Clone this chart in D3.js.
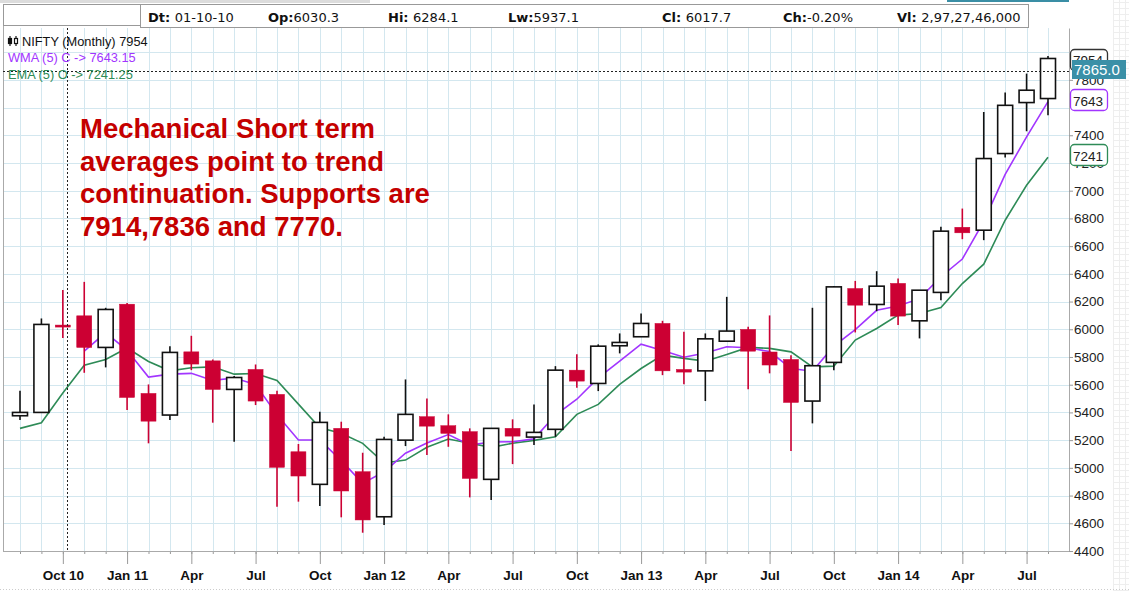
<!DOCTYPE html>
<html>
<head>
<meta charset="utf-8">
<script src="https://cdn.jsdelivr.net/npm/d3@7"></script>
<style>
  body { margin: 0; background: #fff; }
  svg { display: block; font-family: "Liberation Sans", Arial, sans-serif; }
</style>
</head>
<body>
<script>
var months = ["Aug 10","Sep 10","Oct 10","Nov 10","Dec 10","Jan 11","Feb 11","Mar 11","Apr 11","May 11","Jun 11","Jul 11",
  "Aug 11","Sep 11","Oct 11","Nov 11","Dec 11","Jan 12","Feb 12","Mar 12","Apr 12","May 12","Jun 12","Jul 12",
  "Aug 12","Sep 12","Oct 12","Nov 12","Dec 12","Jan 13","Feb 13","Mar 13","Apr 13","May 13","Jun 13","Jul 13",
  "Aug 13","Sep 13","Oct 13","Nov 13","Dec 13","Jan 14","Feb 14","Mar 14","Apr 14","May 14","Jun 14","Jul 14","Aug 14"];

var opens = [5376,5400,6030.3,6097,5869,6181,5537,5381,5837,5772,5566,5710,
  5530,5116,4881,5285,4972,4647,5200,5369,5304,5261,4917,5285,
  5222,5278,5705,5609,5881,5946,6042,5710,5700,5914,5999,5836,
  5782,5482,5761,6294,6179,6331,6061,6266,6736,6715,7268,7636,7665];
var highs = [5556,6078,6284.1,6342,6155,6190,5602,5878,5953,5782,5662,5746,
  5556,5172,5405,5333,5109,5224,5638,5501,5386,5285,5285,5350,
  5458,5734,5819,5891,5970,6114,6061,5982,5970,6234,6018,6100,
  5813,6155,6313,6349,6419,6367,6282,6739,6871,7568,7708,7845,7972];
var lows = [5345,5400,5937.1,5686,5725,5417,5177,5345,5705,5326,5188,5453,
  4720,4756,4725,4643,4532,4588,5157,5092,5152,4787,4768,5027,
  5165,5224,5578,5554,5826,5946,5669,5604,5482,5914,5568,5682,
  5121,5321,5705,5977,6131,6030,5934,6210,6650,6643,7239,7429,7544];
var closes = [5400,6035,6017.7,5869,6143,5508,5337,5833,5749,5566,5652,5482,
  5004,4941,5328,4833,4624,5205,5386,5301,5249,4924,5285,5229,
  5256,5705,5626,5878,5905,6042,5700,5691,5931,5987,5842,5742,
  5472,5737,6306,6174,6311,6095,6282,6708,6696,7232,7616,7725,7954];

var wma5 = [null,null,null,5843,5976,5848,5655,5676,5682,5631,5648,5601,
  5383,5201,5201,5052,4888,4972,5106,5180,5240,5165,5187,5188,
  5209,5381,5495,5649,5771,5892,5847,5798,5829,5874,5867,5839,
  5717,5697,5878,5998,6137,6168,6221,6379,6507,6779,7117,7389,7643.15];
var ema5 = [5285,5325,5540,5741,5782,5865,5768,5700,5722,5729,5676,5681,
  5630,5460,5290,5249,5177,5035,5056,5148,5208,5177,5148,5177,
  5198,5224,5386,5458,5602,5717,5813,5790,5770,5818,5869,5862,
  5837,5729,5734,5922,6006,6102,6114,6157,6330,6470,6787,7039,7241.25];

var tickMonths = ["Oct 10","Jan 11","Apr 11","Jul 11","Oct 11","Jan 12","Apr 12","Jul 12",
  "Oct 12","Jan 13","Apr 13","Jul 13","Oct 13","Jan 14","Apr 14","Jul 14"];
var tickLabels = ["Oct 10","Jan 11","Apr","Jul","Oct","Jan 12","Apr","Jul",
  "Oct","Jan 13","Apr","Jul","Oct","Jan 14","Apr","Jul"];
var yTicks = [4400,4600,4800,5000,5200,5400,5600,5800,6000,6200,6400,6600,6800,7000,7200,7400,7800];
var yGrid = [4400,4600,4800,5000,5200,5400,5600,5800,6000,6200,6400,6600,6800,7000,7200,7400,7600,7800,8000];
var crossPrice = 7865.0;

var headerItems = [["Dt: ","01-10-10",148],["Op:","6030.3",268],["Hi: ","6284.1",388],["Lw:","5937.1",508],
  ["Cl: ","6017.7",662],["Ch:","-0.20%",783],["Vl: ","2,97,27,46,000",897]];
var noteLines = ["Mechanical Short term","averages point to trend","continuation. Supports are","7914,7836 and 7770."];

(function(){
  var W = 1129, H = 591;
  var plot = {left: 3, right: 1069, top: 28, bottom: 551};
  var red = "#cc0033", purple = "#a235ff", green = "#2e8b57", gridColor = "#d3e7ef";

  var svg = d3.select("body").append("svg")
      .attr("width", W)
      .attr("height", H);

  var x = d3.scalePoint().domain(months).range([20, 1048]);
  var y = d3.scaleLinear().domain([4400, 8174]).range([plot.bottom, plot.top]);

  var candles = months.map(function(m, i) {
    return {m: m, o: opens[i], h: highs[i], l: lows[i], c: closes[i]};
  });

  // chrome around the plot
  svg.append("rect").attr("x", 0).attr("y", 0).attr("width", 370).attr("height", 3).attr("fill", "#dcdcdc");
  svg.append("rect").attr("x", 947).attr("y", 0).attr("width", 122).attr("height", 2).attr("fill", "#3a8ea5");
  var faint = svg.append("g").attr("stroke", "#eeeeee").attr("shape-rendering", "crispEdges");
  d3.range(1113, W, 6).forEach(function(v) {
    faint.append("line").attr("x1", v).attr("x2", v).attr("y1", 0).attr("y2", H);
  });
  d3.range(2, H, 6).forEach(function(v) {
    faint.append("line").attr("x1", 1113).attr("x2", W).attr("y1", v).attr("y2", v);
  });

  // grid
  var grid = svg.append("g").attr("stroke", gridColor).attr("shape-rendering", "crispEdges");
  grid.selectAll("line.v").data(months).enter().append("line")
      .attr("class", "v")
      .attr("x1", function(d) { return Math.round(x(d)) + 0.5; })
      .attr("x2", function(d) { return Math.round(x(d)) + 0.5; })
      .attr("y1", plot.top).attr("y2", plot.bottom);
  grid.selectAll("line.h").data(yGrid).enter().append("line")
      .attr("class", "h")
      .attr("x1", plot.left).attr("x2", plot.right)
      .attr("y1", function(d) { return Math.round(y(d)) + 0.5; })
      .attr("y2", function(d) { return Math.round(y(d)) + 0.5; });

  svg.append("line").attr("x1", plot.left + 0.5).attr("x2", plot.left + 0.5)
      .attr("y1", 4).attr("y2", plot.bottom).attr("stroke", "#aaa");

  // header boxes
  svg.append("rect").attr("x", 3.5).attr("y", 4.5).attr("width", 137).attr("height", 21)
      .attr("fill", "#fff").attr("stroke", "#999");
  svg.append("rect").attr("x", 140.5).attr("y", 4.5).attr("width", 888).attr("height", 23)
      .attr("fill", "#fff").attr("stroke", "#999");
  var hdr = svg.append("g").attr("font-family", "'DejaVu Sans', Verdana, sans-serif").attr("font-size", 13).attr("fill", "#111");
  headerItems.forEach(function(it) {
    var t = hdr.append("text").attr("x", it[2]).attr("y", 22);
    t.append("tspan").attr("font-weight", "bold").text(it[0]);
    t.append("tspan").text(it[1]);
  });

  // averages (drawn under the candles)
  var lineGen = function(arr) {
    return d3.line()
      .defined(function(d) { return d != null; })
      .x(function(d, i) { return x(months[i]); })
      .y(function(d) { return y(d); })(arr);
  };
  svg.append("path").attr("d", lineGen(ema5)).attr("fill", "none").attr("stroke", green).attr("stroke-width", 1.6);
  svg.append("path").attr("d", lineGen(wma5)).attr("fill", "none").attr("stroke", purple).attr("stroke-width", 1.6);

  // candles
  var bw = 15;
  var cg = svg.selectAll("g.candle").data(candles).enter().append("g").attr("class", "candle");
  cg.append("line")
      .attr("x1", function(d) { return x(d.m); })
      .attr("x2", function(d) { return x(d.m); })
      .attr("y1", function(d) { return y(d.h); })
      .attr("y2", function(d) { return y(d.l); })
      .attr("stroke", function(d) { return d.c >= d.o ? "#111" : red; })
      .attr("stroke-width", 1.6);
  cg.append("rect")
      .attr("x", function(d) { return x(d.m) - bw / 2; })
      .attr("width", bw)
      .attr("y", function(d) { return y(Math.max(d.o, d.c)); })
      .attr("height", function(d) { return Math.max(2, Math.abs(y(d.o) - y(d.c))); })
      .attr("fill", function(d) { return d.c >= d.o ? "#fff" : red; })
      .attr("stroke", function(d) { return d.c >= d.o ? "#111" : red; })
      .attr("stroke-width", function(d) { return d.c >= d.o ? 1.6 : 0.5; });

  // axes
  var xAxis = svg.append("g").attr("transform", "translate(0," + plot.bottom + ")");
  xAxis.call(d3.axisBottom(x).tickValues(months).tickSize(3).tickFormat(""));
  xAxis.append("g").call(d3.axisBottom(x).tickValues(tickMonths).tickSize(13).tickPadding(6)
      .tickFormat(function(d, i) { return tickLabels[i]; }));
  xAxis.selectAll(".domain").remove();
  xAxis.selectAll("line").attr("stroke", "#999");
  xAxis.selectAll("text").attr("font-family", "'Liberation Sans', Arial, sans-serif")
      .attr("font-size", 13.5).attr("font-weight", "bold").attr("fill", "#111");
  svg.append("line").attr("x1", plot.left).attr("x2", plot.right)
      .attr("y1", plot.bottom + 0.5).attr("y2", plot.bottom + 0.5).attr("stroke", "#aaa");

  var yAxis = svg.append("g").attr("transform", "translate(" + plot.right + ",0)")
      .call(d3.axisRight(y).tickValues(yTicks).tickSize(4).tickSizeOuter(0).tickPadding(1).tickFormat(d3.format("d")));
  yAxis.select(".domain").attr("stroke", "#aaa");
  yAxis.selectAll("line").attr("stroke", "#999");
  yAxis.selectAll("text").attr("font-family", "'Liberation Sans', Arial, sans-serif")
      .attr("font-size", 13.5).attr("fill", "#222");

  // crosshair
  var cy = Math.round(y(crossPrice)) + 0.5;
  svg.append("line").attr("x1", 67.5).attr("x2", 67.5).attr("y1", plot.top).attr("y2", plot.bottom)
      .attr("stroke", "#222").attr("stroke-dasharray", "2,2");
  svg.append("line").attr("x1", plot.left).attr("x2", plot.right).attr("y1", cy).attr("y2", cy)
      .attr("stroke", "#222").attr("stroke-dasharray", "2,2");

  // value tags on the price axis
  var tag = function(yc, stroke, txt) {
    var g = svg.append("g");
    g.append("rect").attr("x", 1070.5).attr("y", yc - 11).attr("width", 37).attr("height", 21)
        .attr("rx", 4).attr("fill", "#fff").attr("stroke", stroke).attr("stroke-width", 1.3);
    g.append("text").attr("x", 1073).attr("y", yc + 5).attr("font-size", 13.5).attr("fill", "#222").text(txt);
  };
  tag(y(closes[48]) + 2, "#333", d3.format("d")(closes[48]));
  var teal = svg.append("g");
  teal.append("rect").attr("x", 1072).attr("y", cy - 11.5).attr("width", 54).attr("height", 19).attr("fill", "#3b90a7");
  teal.append("text").attr("x", 1074).attr("y", cy + 3.5).attr("font-size", 15).attr("fill", "#fff")
      .text(d3.format(".1f")(crossPrice));
  tag(100.5, purple, d3.format("d")(wma5[48]));
  tag(155.5, green, d3.format("d")(ema5[48]));

  // legend
  var lg = svg.append("g").attr("font-size", 12.8);
  var icon = lg.append("g").attr("stroke", "#111").attr("stroke-width", 1.2);
  icon.append("line").attr("x1", 10).attr("x2", 10).attr("y1", 36).attr("y2", 46);
  icon.append("rect").attr("x", 8.5).attr("y", 38.5).attr("width", 3).attr("height", 5).attr("fill", "#111");
  icon.append("line").attr("x1", 16).attr("x2", 16).attr("y1", 36).attr("y2", 46);
  icon.append("rect").attr("x", 14.5).attr("y", 38.5).attr("width", 3).attr("height", 5).attr("fill", "#fff");
  lg.append("text").attr("x", 22).attr("y", 46).attr("fill", "#111").text("NIFTY (Monthly) " + d3.format("d")(closes[48]));
  lg.append("text").attr("x", 8).attr("y", 62).attr("fill", purple).text("WMA (5) C -> " + d3.format(".2f")(wma5[48]));
  lg.append("text").attr("x", 8).attr("y", 79).attr("fill", green).text("EMA (5) O -> " + d3.format(".2f")(ema5[48]));

  // annotation
  svg.append("g").attr("font-size", 27.5).attr("font-weight", "bold").attr("fill", "#c40000")
    .selectAll("text").data(noteLines).enter().append("text")
      .attr("x", 80)
      .attr("y", function(d, i) { return 138 + i * 32.6; })
      .text(function(d) { return d; });

  svg.append("line").attr("x1", 0).attr("x2", W).attr("y1", 589.5).attr("y2", 589.5)
      .attr("stroke", "#ccc").attr("stroke-dasharray", "1,2");
})();
</script>
</body>
</html>
